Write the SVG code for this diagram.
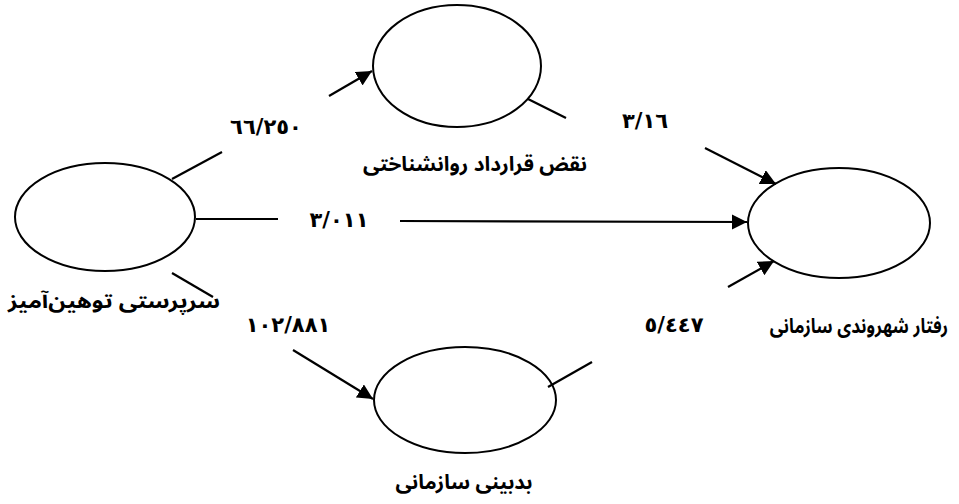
<svg xmlns="http://www.w3.org/2000/svg" width="959" height="504" viewBox="0 0 959 504">
<style>
.n{fill:none;stroke:#000;stroke-width:2}
.c line{stroke:#000;stroke-width:2.2}
.t{font-family:"Noto Sans Arabic","DejaVu Sans",sans-serif;font-weight:bold;font-size:20px;fill:#000;text-anchor:middle}
.d{font-family:"DejaVu Sans","Noto Sans Arabic",sans-serif;font-weight:bold;font-size:21px;fill:#000;text-anchor:middle}
</style>
<defs>
<marker id="a" viewBox="0 0 10 10" refX="10" refY="5" markerWidth="7" markerHeight="7" orient="auto" markerUnits="strokeWidth">
<path d="M0,0 L10,5 L0,10 z" fill="#000"/>
</marker>
</defs>
<rect width="959" height="504" fill="#fff"/>
<g class="c" id="connectors">
<line x1="172" y1="179" x2="222" y2="152"/>
<line x1="329" y1="96" x2="372" y2="71" marker-end="url(#a)"/>
<line x1="528" y1="99" x2="566" y2="118"/>
<line x1="705" y1="148" x2="776" y2="184" marker-end="url(#a)"/>
<line x1="196" y1="219" x2="278" y2="219"/>
<line x1="400" y1="221" x2="747" y2="222" marker-end="url(#a)"/>
<line x1="172" y1="273" x2="213" y2="297"/>
<line x1="293" y1="350" x2="373" y2="399" marker-end="url(#a)"/>
<line x1="548" y1="387" x2="592" y2="362"/>
<line x1="728" y1="287" x2="774" y2="261" marker-end="url(#a)"/>
</g>
<g id="n-abusive">
<ellipse class="n" cx="105" cy="217" rx="90" ry="54"/>
<text class="t" x="114" y="308" direction="rtl" textLength="212" lengthAdjust="spacingAndGlyphs">سرپرستی توهین‌آمیز</text>
</g>
<g id="n-breach">
<ellipse class="n" cx="457" cy="66" rx="84" ry="61"/>
<text class="t" x="475" y="171" direction="rtl" textLength="224" lengthAdjust="spacingAndGlyphs">نقض قرارداد روانشناختی</text>
</g>
<g id="n-cynicism">
<ellipse class="n" cx="465" cy="400" rx="91" ry="53"/>
<text class="t" x="464" y="489" direction="rtl" textLength="137" lengthAdjust="spacingAndGlyphs">بدبینی سازمانی</text>
</g>
<g id="n-ocb">
<ellipse class="n" cx="839" cy="223" rx="91" ry="55"/>
<text class="t" transform="translate(859,333) scale(0.86,1)" x="0" y="0" direction="rtl" font-size="19">رفتار شهروندی سازمانی</text>
</g>
<g id="labels">
<text class="d" x="266" y="134">٦٦/٢٥٠</text>
<text class="d" x="645" y="128">٣/١٦</text>
<text class="d" x="339" y="227">٣/٠١١</text>
<text class="d" x="288" y="332">١٠٢/٨٨١</text>
<text class="d" x="674" y="332">٥/٤٤٧</text>
</g>
</svg>
